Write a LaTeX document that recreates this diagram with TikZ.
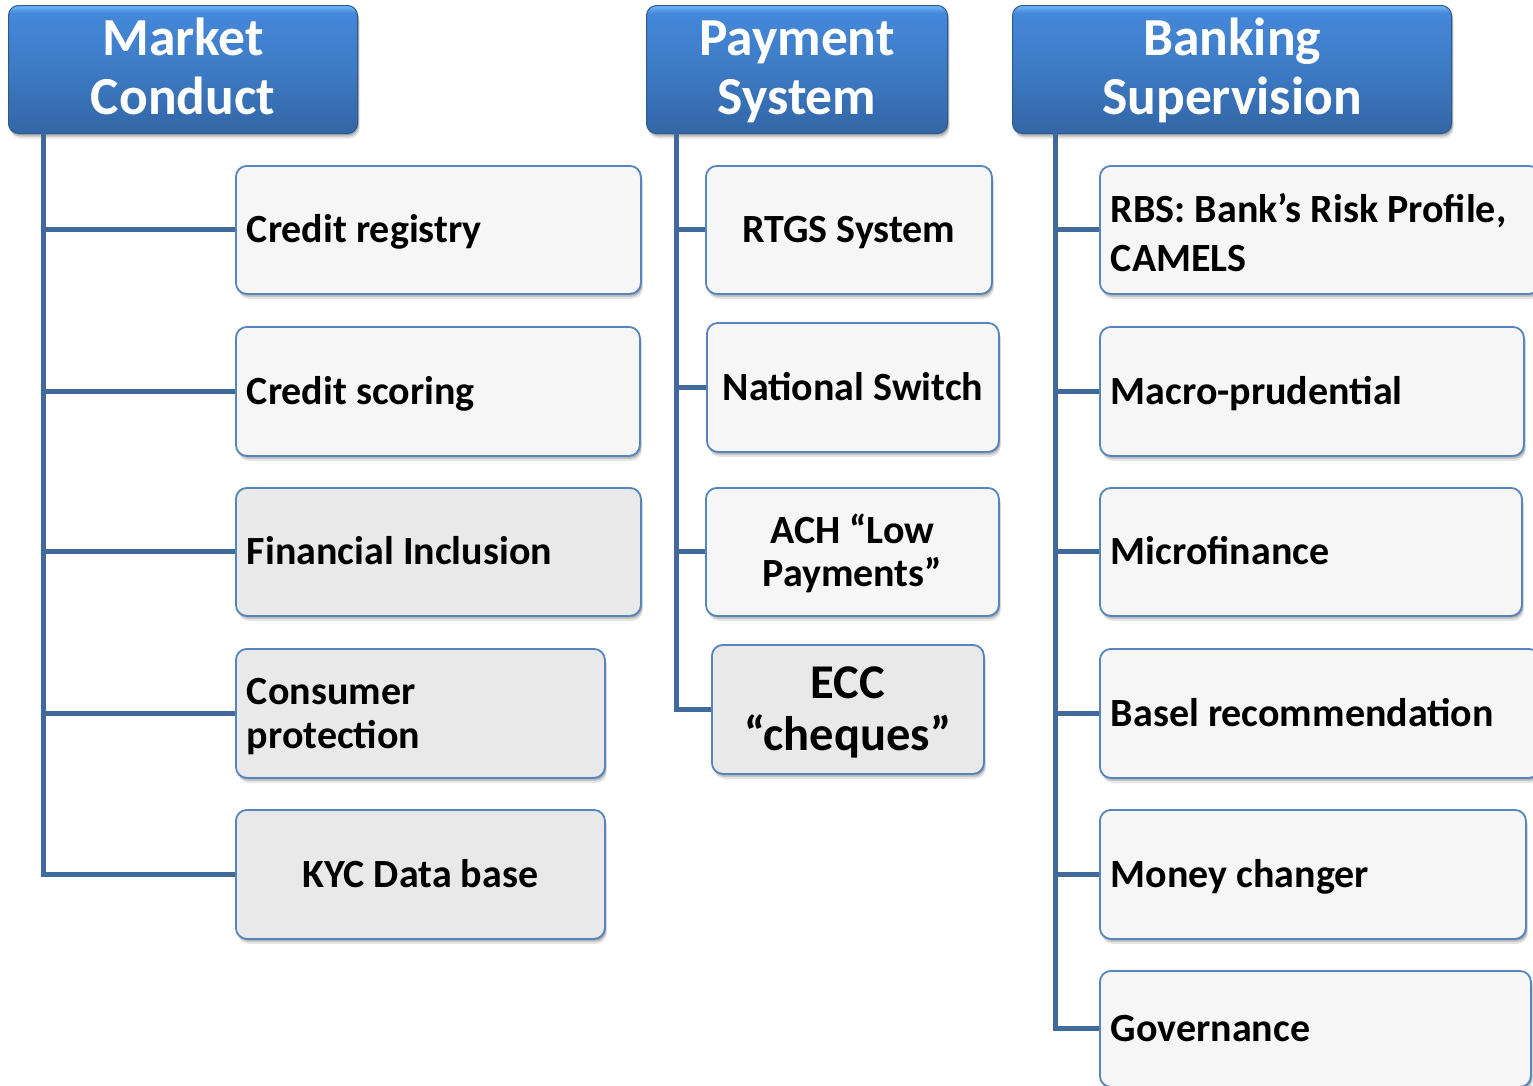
\documentclass[tikz,border=0pt]{standalone}
\usepackage{fontspec}
\setmainfont{Carlito}
\usetikzlibrary{shadows,calc}
\definecolor{linkblue}{HTML}{41699A}
\definecolor{edgeblue}{HTML}{5585BF}
\definecolor{lightfill}{HTML}{F6F6F6}
\definecolor{greyfill}{HTML}{E9E9E9}
\definecolor{headedge}{HTML}{2F5A90}
\pgfdeclareverticalshading{headgrad}{100bp}{
  rgb(0bp)=(0.17,0.33,0.53);
  rgb(3bp)=(0.20,0.38,0.62);
  rgb(25bp)=(0.20,0.40,0.65);
  rgb(50bp)=(0.24,0.48,0.77);
  rgb(72bp)=(0.27,0.53,0.85);
  rgb(74bp)=(0.38,0.66,0.94);
  rgb(75bp)=(0.44,0.72,0.97);
  rgb(100bp)=(0.44,0.72,0.97)}
\newcommand\uprule{\rule{0pt}{40pt}}
\newcommand\dnrule[1]{\rule[-\dimexpr40pt-#1pt\relax]{0pt}{\dimexpr40pt-#1pt\relax}}
\newcommand\oneline[1]{\uprule #1\dnrule{26}}
\newcommand\bodyfont[2]{\fontsize{#1}{#2}\selectfont\bfseries}
\tikzset{
  x=1pt,y=-1pt,
  softshadow/.style={
    general shadow={shadow xshift=1pt,shadow yshift=-1.5pt,opacity=.16,fill=black},
    general shadow={shadow xshift=1.5pt,shadow yshift=-3pt,opacity=.14,fill=black},
    general shadow={shadow xshift=2pt,shadow yshift=-5pt,opacity=.10,fill=black}},
  headbox/.style={draw=headedge,line width=1pt,rounded corners=10pt,shading=headgrad,shading angle=0,
    softshadow,anchor=north west,minimum height=128pt,inner xsep=0pt,inner ysep=0pt,align=flush center,text=white,
    font=\bodyfont{53.5}{59}},
  itembox/.style={draw=edgeblue,line width=1.8pt,rounded corners=11pt,fill=lightfill,softshadow,anchor=north west,
    minimum height=128pt,inner xsep=11pt,inner ysep=0pt,text=black,font=\bodyfont{40}{49}},
  greybox/.style={itembox,fill=greyfill},
  link/.style={draw=linkblue,line width=5pt},
}
\begin{document}
\begin{tikzpicture}
\useasboundingbox (1,1) rectangle (1534,1086);
\clip (1,1) rectangle (1534,1086);

% headers
\node[headbox,minimum width=349pt,text width=349pt] (market) at (9,6) {\uprule Market\\Conduct\dnrule{31}};
\node[headbox,minimum width=301pt,text width=301pt] (payment) at (647,6) {\uprule Payment\\System\dnrule{31}};
\node[headbox,minimum width=439pt,text width=439pt] (banking) at (1013,6) {\uprule Banking\\Supervision\dnrule{31}};

% market conduct
\node[itembox,minimum width=405pt,text width=383pt,align=flush left] (cr) at (236,166) {\oneline{Credit registry}};
\node[itembox,minimum width=404pt,text width=382pt,minimum height=129pt,align=flush left] (cs) at (236,327) {\oneline{Credit scoring}};
\node[greybox,minimum width=405pt,text width=383pt,align=flush left] (fi) at (236,488) {\oneline{Financial Inclusion}};
\node[greybox,minimum width=369pt,text width=347pt,minimum height=129pt,align=flush left,font=\bodyfont{40}{44}] (cp) at (236,649) {\uprule Consumer\\protection\dnrule{26.5}};
\node[greybox,minimum width=369pt,text width=347pt,minimum height=129pt,align=flush center] (kyc) at (236,810) {\oneline{KYC Data base}};

% payment system
\node[itembox,minimum width=286pt,text width=264pt,align=flush center] (rtgs) at (706,166) {\oneline{RTGS System}};
\node[itembox,minimum width=292pt,text width=270pt,minimum height=129pt,align=flush center] (ns) at (707,323) {\oneline{National Switch}};
\node[itembox,minimum width=293pt,text width=271pt,align=flush center,font=\bodyfont{40}{43}] (ach) at (706,488) {\uprule ACH “Low\\Payments”\dnrule{27}};
\node[greybox,minimum width=272pt,text width=250pt,minimum height=129pt,align=flush center,font=\bodyfont{48.5}{52}] (ecc) at (712,645) {\uprule ECC\\“cheques”\dnrule{31}};

% banking supervision
\node[itembox,minimum width=440pt,text width=418pt,align=flush left] (rbs) at (1100,166) {\uprule RBS: Bank’s Risk Profile,\\CAMELS\dnrule{35}};
\node[itembox,minimum width=424pt,text width=402pt,minimum height=129pt,align=flush left] (mp) at (1100,327) {\oneline{Macro-prudential}};
\node[itembox,minimum width=422pt,text width=400pt,align=flush left] (mf) at (1100,488) {\oneline{Microfinance}};
\node[itembox,minimum width=440pt,text width=418pt,minimum height=129pt,align=flush left] (br) at (1100,649) {\oneline{Basel recommendation}};
\node[itembox,minimum width=426pt,text width=404pt,minimum height=129pt,align=flush left] (mc) at (1100,810) {\oneline{Money changer}};
\node[itembox,minimum width=431pt,text width=409pt,minimum height=116pt,align=flush left] (gv) at (1100,971) {\oneline{Governance}};

% connectors
\coordinate (ta) at (44,134);
\coordinate (tb) at (677,134);
\coordinate (tc) at (1056,134);
\foreach \n in {cr,cs,fi,cp,kyc} \draw[link] (ta) |- (\n.west);
\foreach \n in {rtgs,ns,ach,ecc} \draw[link] (tb) |- (\n.west);
\foreach \n in {rbs,mp,mf,br,mc,gv} \draw[link] (tc) |- (\n.west);
\end{tikzpicture}
\end{document}
